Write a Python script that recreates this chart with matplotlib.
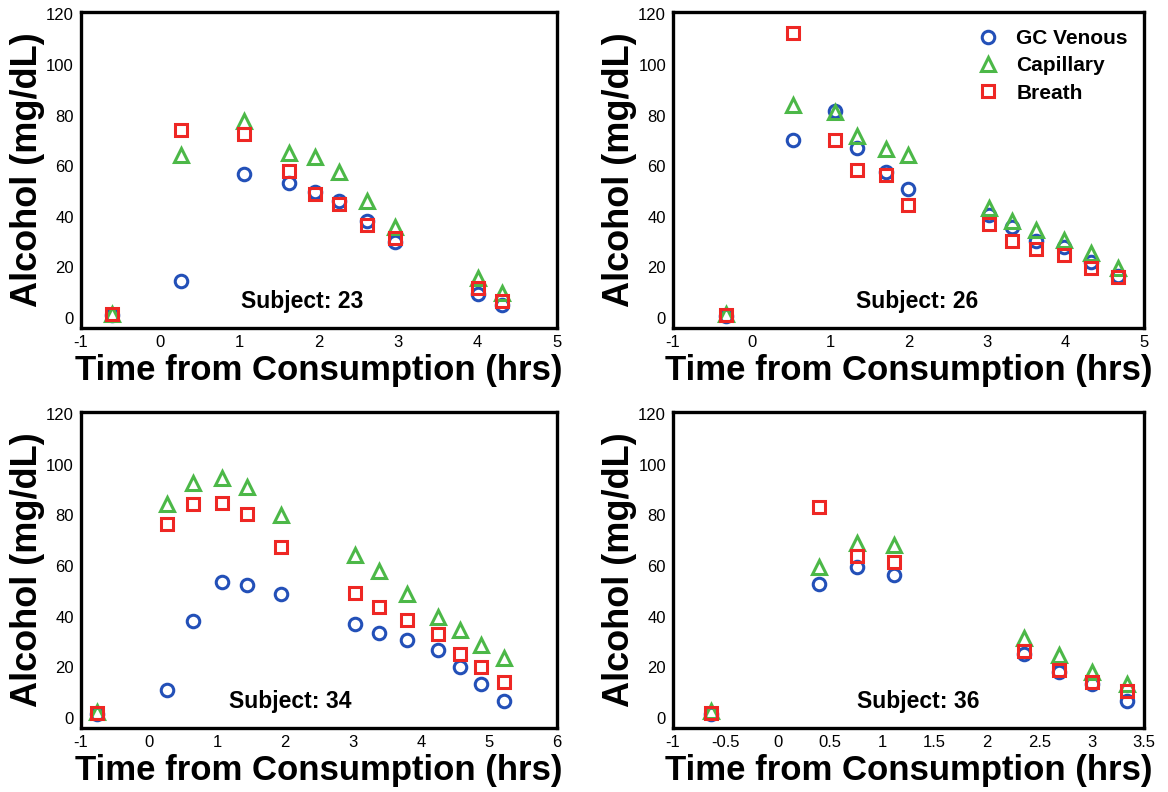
import matplotlib
matplotlib.use('Agg')
import matplotlib.pyplot as plt

plt.rcParams['font.family'] = ['Liberation Sans', 'DejaVu Sans']

# Subject 23
t23 = [-0.61, 0.26, 1.06, 1.62, 1.95, 2.25, 2.60, 2.96, 4.01, 4.31]
venous23 = [1.0, 14.6, 57.0, 53.4, 49.9, 46.0, 38.4, 29.8, 9.3, 4.9]
capillary23 = [1.5, 64.2, 77.7, 65.3, 63.6, 57.6, 46.0, 35.8, 15.9, 9.9]
breath23 = [1.3, 74.4, 72.6, 57.9, 49.0, 45.0, 36.7, 31.4, 11.9, 6.6]

# Subject 26
t26 = [-0.33, 0.53, 1.06, 1.35, 1.71, 1.99, 3.03, 3.32, 3.63, 3.98, 4.32, 4.67]
venous26 = [0.8, 70.5, 81.7, 67.2, 57.6, 51.0, 40.7, 35.8, 30.5, 27.8, 21.9, 16.6]
capillary26 = [1.5, 84.1, 81.5, 71.8, 66.9, 64.2, 43.3, 38.4, 34.8, 30.9, 25.6, 19.5]
breath26 = [1.2, 112.6, 70.2, 58.3, 56.6, 44.8, 37.1, 30.5, 27.2, 24.8, 19.5, 16.2]

# Subject 34
t34 = [-0.76, 0.26, 0.65, 1.07, 1.44, 1.94, 3.03, 3.39, 3.80, 4.25, 4.58, 4.89, 5.22]
venous34 = [1.5, 10.8, 38.3, 53.7, 52.4, 48.8, 37.2, 33.6, 30.7, 26.6, 20.2, 13.2, 6.6]
capillary34 = [2.3, 84.4, 93.0, 95.0, 91.3, 80.2, 64.4, 58.0, 49.1, 39.8, 34.6, 28.8, 23.5]
breath34 = [2.0, 76.8, 84.4, 85.1, 80.5, 67.5, 49.2, 43.9, 38.7, 33.2, 25.1, 20.1, 14.1]

# Subject 36
t36 = [-0.64, 0.39, 0.76, 1.11, 2.35, 2.69, 3.00, 3.34]
venous36 = [1.5, 52.8, 59.8, 56.5, 25.3, 18.2, 13.2, 6.6]
capillary36 = [2.5, 59.6, 69.0, 68.3, 31.4, 24.8, 18.1, 13.2]
breath36 = [2.0, 83.4, 64.0, 61.6, 26.4, 18.7, 14.1, 10.6]

subjects = ['23', '26', '34', '36']
xlims = [(-1, 5), (-1, 5), (-1, 6), (-1, 3.5)]
xticks = [[-1, 0, 1, 2, 3, 4, 5], [-1, 0, 1, 2, 3, 4, 5],
          [-1, 0, 1, 2, 3, 4, 5, 6],
          [-1, -0.5, 0, 0.5, 1, 1.5, 2, 2.5, 3, 3.5]]
xticklabels = [['-1', '0', '1', '2', '3', '4', '5'], ['-1', '0', '1', '2', '3', '4', '5'],
               ['-1', '0', '1', '2', '3', '4', '5', '6'],
               ['-1', '-0.5', '0', '0.5', '1', '1.5', '2', '2.5', '3', '3.5']]

dados = [(t23, venous23, capillary23, breath23),
         (t26, venous26, capillary26, breath26),
         (t34, venous34, capillary34, breath34),
         (t36, venous36, capillary36, breath36)]

azul = '#2350b8'
verde = '#4cb848'
vermelho = '#ee2724'

fig = plt.figure(figsize=(11.68, 7.92), dpi=100)
caixas = [(0.0693, 0.586, 0.4075, 0.399), (0.5762, 0.586, 0.4033, 0.399),
          (0.0693, 0.081, 0.4075, 0.399), (0.5762, 0.081, 0.4033, 0.399)]
pos_texto = [0.464, 0.518, 0.44, 0.52]

for i in range(4):
    ax = fig.add_axes(caixas[i])
    t, ven, cap, bre = dados[i]
    ax.plot(t, ven, 'o', ms=9, mfc='none', mec=azul, mew=2.2, label='GC Venous')
    ax.plot(t, cap, '^', ms=9.5, mfc='none', mec=verde, mew=2.2, label='Capillary')
    ax.plot(t, bre, 's', ms=8.5, mfc='none', mec=vermelho, mew=2.2, label='Breath')

    ax.set_xlim(xlims[i])
    ax.set_ylim(-4, 121)
    ax.set_xticks(xticks[i])
    ax.set_xticklabels(xticklabels[i])
    ax.set_yticks([0, 20, 40, 60, 80, 100, 120])
    ax.tick_params(length=0, labelsize=12, pad=5)
    for s in ax.spines.values():
        s.set_linewidth(2.4)
    ax.set_xlabel('Time from Consumption (hrs)', fontsize=25, fontweight='bold', labelpad=3)
    ax.set_ylabel('Alcohol (mg/dL)', fontsize=26, fontweight='bold', labelpad=1)
    ax.text(pos_texto[i], 0.082, 'Subject: ' + subjects[i], transform=ax.transAxes,
            ha='center', va='center', fontsize=16.5, fontweight='bold')

    if i == 1:
        ax.legend(loc='upper left', bbox_to_anchor=(0.585, 1.005), frameon=False,
                  handletextpad=0.35, labelspacing=0.4,
                  prop={'weight': 'bold', 'size': 15})

fig.savefig('out.png', dpi=100)
